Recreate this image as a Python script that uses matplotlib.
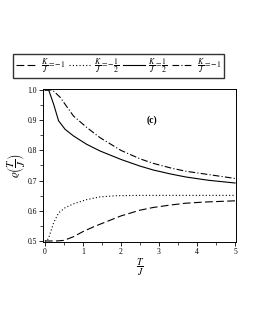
import numpy as np
import matplotlib.pyplot as plt

plt.rcParams['font.family'] = ['Liberation Serif', 'DejaVu Serif']
plt.rcParams['mathtext.fontset'] = 'stix'

# T/J sample points and rho values
t_m1 = [0.0, 0.3, 0.5, 0.75, 1.0, 1.3, 1.6, 2.0, 2.5, 2.85, 3.3, 3.7, 4.2, 5.0]
rho_m1 = [0.5, 0.5, 0.502, 0.514, 0.531, 0.548, 0.563, 0.583, 0.602, 0.611, 0.619, 0.625, 0.629, 0.633]

t_mhalf = [0.0, 0.05, 0.1, 0.23, 0.36, 0.53, 0.75, 1.1, 1.45, 1.9, 2.5, 3.5, 5.0]
rho_mhalf = [0.5, 0.5, 0.51, 0.56, 0.593, 0.61, 0.623, 0.637, 0.646, 0.65, 0.651, 0.651, 0.651]

t_half = [0.0, 0.1, 0.23, 0.36, 0.53, 0.75, 1.1, 1.45, 2.0, 2.5, 2.85, 3.3, 3.7, 4.3, 5.0]
rho_half = [1.0, 1.0, 0.953, 0.898, 0.87, 0.848, 0.82, 0.798, 0.77, 0.748, 0.735, 0.722, 0.712, 0.701, 0.692]

t_one = [0.0, 0.2, 0.4, 0.75, 1.1, 1.45, 2.0, 2.5, 2.85, 3.3, 3.7, 4.3, 5.0]
rho_one = [1.0, 1.0, 0.976, 0.914, 0.876, 0.842, 0.8, 0.772, 0.757, 0.742, 0.731, 0.72, 0.707]

labels = [r'$\dfrac{K}{J}=-1$', r'$\dfrac{K}{J}=-\dfrac{1}{2}$',
          r'$\dfrac{K}{J}=\dfrac{1}{2}$', r'$\dfrac{K}{J}=-1$']

fig = plt.figure(figsize=(2.55, 3.3), dpi=100)
ax = fig.add_axes([0.17, 0.267, 0.755, 0.464])

lw = 0.8
l1, = ax.plot(t_m1, rho_m1, color='black', lw=lw, linestyle=(0, (7, 3)))
l2, = ax.plot(t_mhalf, rho_mhalf, color='black', lw=lw, linestyle=(0, (1, 2)))
l3, = ax.plot(t_half, rho_half, color='black', lw=lw, linestyle='-')
l4, = ax.plot(t_one, rho_one, color='black', lw=lw, linestyle=(0, (6, 2, 1, 2)))

ax.set_xlim(-0.04, 5.02)
ax.set_ylim(0.497, 1.004)
ax.set_xticks([0, 1, 2, 3, 4, 5])
ax.set_xticks(np.arange(0.5, 5, 1), minor=True)
ax.set_yticks([0.5, 0.6, 0.7, 0.8, 0.9, 1.0])
ax.set_yticks(np.arange(0.55, 1.0, 0.1), minor=True)
ax.tick_params(which='major', length=3, width=0.6, labelsize=5.5, pad=1.5)
ax.tick_params(which='minor', length=2, width=0.5)
for s in ax.spines.values():
    s.set_linewidth(0.7)

ax.text(2.81, 0.9, '(c)', fontsize=7, fontweight='bold', ha='center', va='center')

ax.set_xlabel(r'$\dfrac{T}{J}$', fontsize=7)
ax.xaxis.set_label_coords(0.5, -0.1)
ax.set_ylabel(r'$\varrho\left(\dfrac{T}{J}\right)$', fontsize=8)
ax.yaxis.set_label_coords(-0.085, 0.5)

fig.legend([l1, l2, l3, l4], labels, ncol=4, loc='center',
           bbox_to_anchor=(0.465, 0.8), fontsize=5.7, frameon=True,
           fancybox=False, edgecolor='black', handlelength=2.7,
           columnspacing=0.5, handletextpad=0.45, borderpad=0.3)

fig.savefig('out.png', dpi=100)
